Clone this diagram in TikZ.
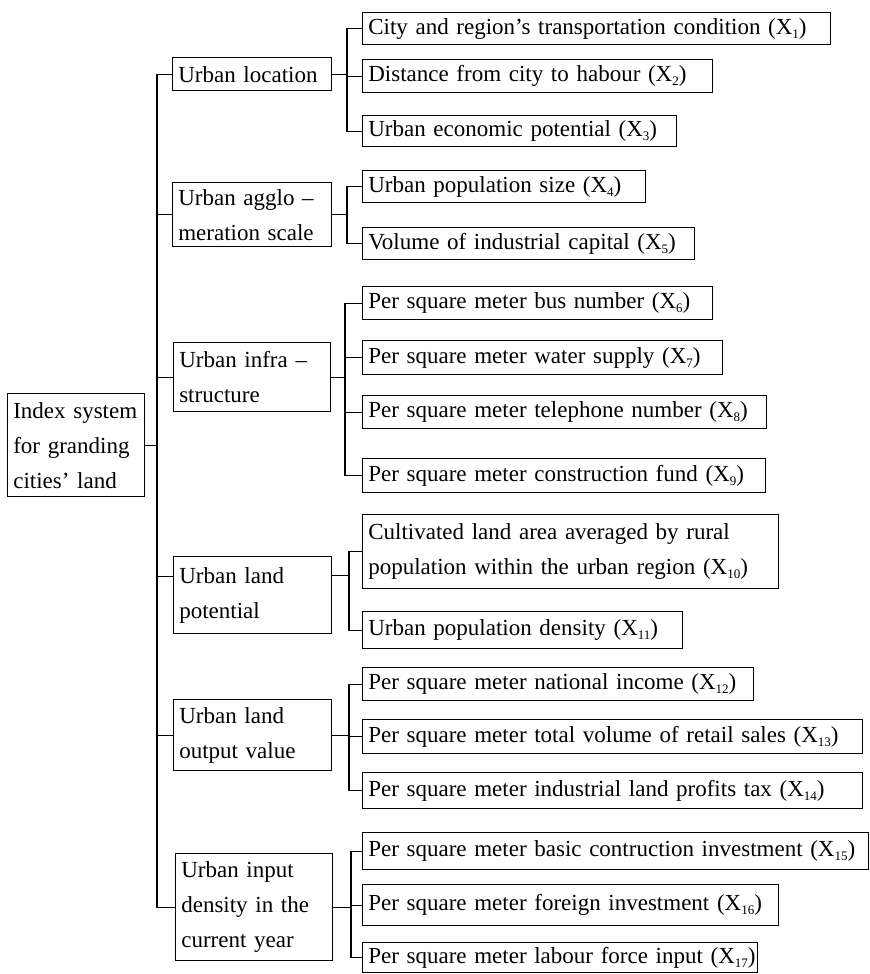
\documentclass[tikz,border=0pt]{standalone}
\usepackage{fontspec}
\setmainfont{Liberation Serif}[WordSpace=1.4]
\newcommand{\xsub}[1]{(X\raisebox{-2pt}{\fontsize{6.5}{6.5}\selectfont #1})}

\begin{document}
\begin{tikzpicture}[x=0.5pt, y=-0.5pt,
    ibox/.style={draw, line width=0.7pt, anchor=north west, align=left,
        inner xsep=2.8pt, inner ysep=0pt, font=\fontsize{11.5}{17.5}\selectfont,
        execute at begin node={\hyphenpenalty=10000\rightskip=0pt plus 1fil minus 30pt}},
    cell/.style 2 args={text width=#1, minimum height=#2},
    link/.style={line width=0.6pt}]
    \useasboundingbox (0,0) rectangle (869,974);

    % Root of the index system
    \node[ibox, cell={62.9pt}{51.5pt}] (root) at (7,393) {Index system\\for granding\\cities’ land};

    % First level factors
    \node[ibox, cell={73.9pt}{16.5pt}] (loc)   at (172,57)  {Urban location};
    \node[ibox, cell={73.9pt}{32pt}]   (agg)   at (172,182) {Urban agglo –\\meration scale};
    \node[ibox, cell={72.9pt}{34.5pt}] (infra) at (173,342) {Urban infra –\\structure};
    \node[ibox, cell={73.4pt}{38.5pt}] (pot)   at (173,556) {Urban land\\potential};
    \node[ibox, cell={73.4pt}{35.5pt}] (out)   at (173,699) {Urban land\\output value};
    \node[ibox, cell={72.9pt}{53.5pt}] (inp)   at (175,853) {Urban input\\density in the\\current year};

    % Indices X1 ... X17
    \node[ibox, cell={228.4pt}{16pt}]  (x1)  at (362,12)  {City and region’s transportation condition \xsub{1}};
    \node[ibox, cell={169.4pt}{16.5pt}](x2)  at (362,59)  {Distance from city to habour \xsub{2}};
    \node[ibox, cell={151.4pt}{15.5pt}](x3)  at (362,115) {Urban economic potential \xsub{3}};
    \node[ibox, cell={135.9pt}{16pt}]  (x4)  at (362,170) {Urban population size \xsub{4}};
    \node[ibox, cell={160.4pt}{16pt}]  (x5)  at (362,227) {Volume of industrial capital \xsub{5}};
    \node[ibox, cell={169.4pt}{16.5pt}](x6)  at (362,286) {Per square meter bus number \xsub{6}};
    \node[ibox, cell={174.4pt}{17pt}]  (x7)  at (362,340) {Per square meter water supply \xsub{7}};
    \node[ibox, cell={196.4pt}{16.5pt}](x8)  at (362,395) {Per square meter telephone number \xsub{8}};
    \node[ibox, cell={195.9pt}{17pt}]  (x9)  at (362,458) {Per square meter construction fund \xsub{9}};
    \node[ibox, cell={202.4pt}{37pt}]  (x10) at (362,514) {Cultivated land area averaged by rural\\population within the urban region \xsub{10}};
    \node[ibox, cell={154.4pt}{18.5pt}](x11) at (362,611) {Urban population density \xsub{11}};
    \node[ibox, cell={189.9pt}{16.5pt}](x12) at (362,667) {Per square meter national income \xsub{12}};
    \node[ibox, cell={244.4pt}{17pt}]  (x13) at (362,719) {Per square meter total volume of retail sales \xsub{13}};
    \node[ibox, cell={244.4pt}{18pt}]  (x14) at (362,772) {Per square meter industrial land profits tax \xsub{14}};
    \node[ibox, cell={247.4pt}{18.5pt}](x15) at (362,832) {Per square meter basic contruction investment \xsub{15}};
    \node[ibox, cell={202.4pt}{20.5pt}](x16) at (362,884) {Per square meter foreign investment \xsub{16}};
    \node[ibox, cell={191.9pt}{15pt}]  (x17) at (362,942) {Per square meter labour force input \xsub{17}};

    % Trunk from the root to the first level
    \coordinate (trunk) at (157,0);
    \draw[link] (root.east) -- (root.east -| trunk);
    \draw[link] (loc.west) -- (loc.west -| trunk) -- (inp.west -| trunk) -- (inp.west);
    \foreach \n in {agg,infra,out}
        \draw[link] (\n.west -| trunk) -- (\n.west);
    \draw[link] ([yshift=9.5pt]pot.west -| trunk) -- ([yshift=9.5pt]pot.west);

    % Brackets from each factor to its indices
    \coordinate (b1) at (347,0);
    \coordinate (b2) at (347,0);
    \coordinate (b3) at (345,0);
    \coordinate (b4) at (349,0);
    \coordinate (b5) at (349,0);
    \coordinate (b6) at (351,0);
    \foreach \p/\f/\t/\b/\s in {loc/x1/x3/b1/0, agg/x4/x5/b2/0, infra/x6/x9/b3/0,
                                pot/x10/x11/b4/10, out/x12/x14/b5/0, inp/x15/x17/b6/0} {
        \draw[link] (\f.west) -- (\f.west -| \b) -- (\t.west -| \b) -- (\t.west);
        \draw[link] ([yshift=\s pt]\p.east) -- ([yshift=\s pt]\p.east -| \b);
    }
    % middle stubs
    \foreach \l/\b in {x2/b1, x7/b3, x8/b3, x13/b5, x16/b6}
        \draw[link] (\l.west) -- (\l.west -| \b);
\end{tikzpicture}
\end{document}
